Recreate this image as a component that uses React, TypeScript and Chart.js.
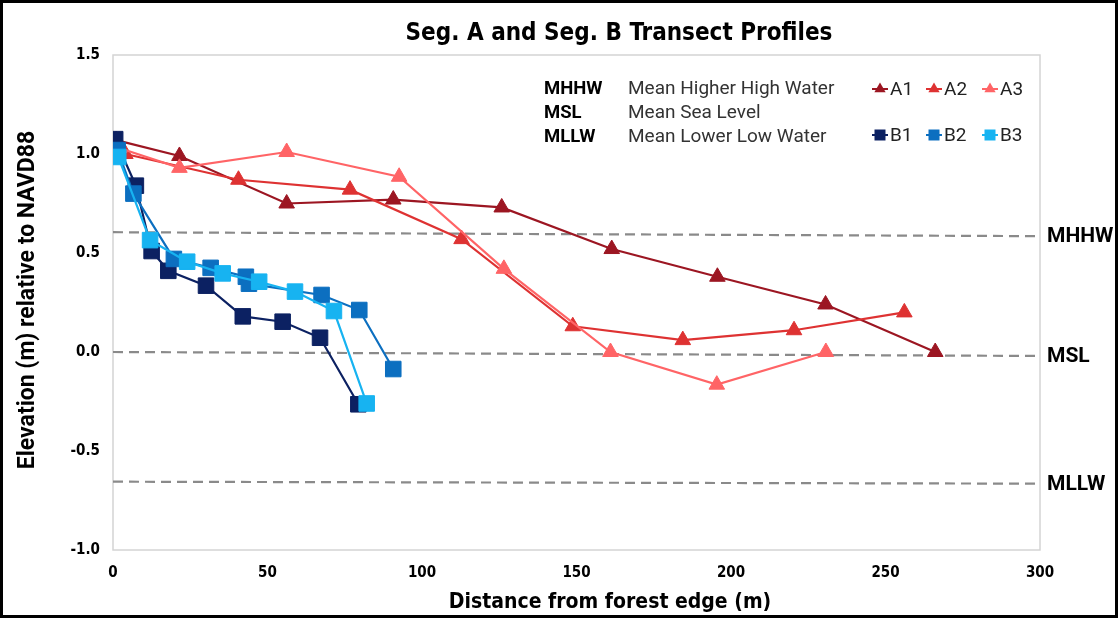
import React, { useEffect, useRef } from "react";
import { Chart, registerables } from "chart.js";

Chart.register(...registerables);

// ---- data (distance from forest edge in m, elevation in m rel. NAVD88) ----
const A1_X = [1, 21.5, 56.2, 90.7, 125.8, 161.4, 195.6, 230.6, 266.1];
const A1_Y = [1.07, 0.99, 0.75, 0.77, 0.73, 0.52, 0.38, 0.24, 0.0];
const A2_X = [4, 40.6, 76.7, 112.8, 148.8, 184.4, 220.4, 256.1];
const A2_Y = [1.0, 0.87, 0.82, 0.57, 0.13, 0.06, 0.11, 0.2];
const A3_X = [2, 21.5, 56.2, 92.6, 126.5, 161, 195.4, 230.7];
const A3_Y = [1.03, 0.93, 1.01, 0.885, 0.42, 0.0, -0.165, 0.0];
const B1_X = [0.7, 7.4, 12.5, 17.9, 30.1, 42, 54.9, 67, 79.4];
const B1_Y = [1.075, 0.84, 0.51, 0.41, 0.335, 0.18, 0.153, 0.072, -0.264];
const B2_X = [1.5, 6.6, 19.7, 31.6, 43, 44, 67.5, 79.7, 90.7];
const B2_Y = [1.02, 0.8, 0.47, 0.425, 0.38, 0.345, 0.288, 0.212, -0.086];
const B3_X = [1.7, 12, 24, 35.5, 47.3, 58.9, 71.5, 82.1];
const B3_Y = [0.985, 0.565, 0.456, 0.397, 0.355, 0.305, 0.207, -0.26];

const LEVEL_X = [0, 300];
const MHHW_Y = [0.605, 0.585];
const MSL_Y = [0.0, -0.02];
const MLLW_Y = [-0.655, -0.665];

const LEVEL_CODES = ["MHHW", "MSL", "MLLW"];
const LEVEL_NAMES = ["Mean Higher High Water", "Mean Sea Level", "Mean Lower Low Water"];

const X_TICKS = [0, 50, 100, 150, 200, 250, 300];
const Y_TICKS = [-1.0, -0.5, 0.0, 0.5, 1.0, 1.5];

const TITLE = "Seg. A and Seg. B Transect Profiles";
const X_TITLE = "Distance from forest edge (m)";
const Y_TITLE = "Elevation (m) relative to NAVD88";

const COLORS = {
  A1: "#9c1622",
  A2: "#de3232",
  A3: "#ff6466",
  B1: "#0c2162",
  B2: "#0c6fc0",
  B3: "#17b3f1",
  level: "#8a8a8a",
};

const NARROW = "'Liberation Sans Narrow', 'DejaVu Sans Condensed', 'Open Sans', sans-serif";
const SANS = "Roboto, 'Noto Sans', sans-serif";

function pts(xs: number[], ys: number[]) {
  return xs.map((x, i) => ({ x, y: ys[i] }));
}

const textPlugin = {
  id: "customTexts",
  beforeDatasetsDraw(chart: any) {
    const { ctx, chartArea } = chart;
    ctx.save();
    ctx.strokeStyle = "#d4d4d4";
    ctx.lineWidth = 1.5;
    ctx.strokeRect(chartArea.left, chartArea.top, chartArea.right - chartArea.left, chartArea.bottom - chartArea.top);
    ctx.restore();
  },
  afterDraw(chart: any) {
    const { ctx, chartArea, scales } = chart;
    const ys = scales.y;
    ctx.save();
    ctx.fillStyle = "#000";
    ctx.textBaseline = "middle";

    // title
    ctx.textAlign = "center";
    ctx.font = `bold 24px ${NARROW}`;
    ctx.fillText(TITLE, 616, 31);

    // x title
    ctx.font = `bold 21px ${NARROW}`;
    ctx.fillText(X_TITLE, 607, 600);

    // y title
    ctx.save();
    ctx.translate(25, 297);
    ctx.rotate(-Math.PI / 2);
    ctx.font = `bold 23px ${SANS}`;
    ctx.fillText(Y_TITLE, 0, 0);
    ctx.restore();

    // right labels
    ctx.textAlign = "left";
    ctx.font = `bold 21px ${SANS}`;
    const rightYs = [MHHW_Y[1], MSL_Y[1], MLLW_Y[1]];
    LEVEL_CODES.forEach((c, i) => {
      ctx.fillText(c, chartArea.right + 7, ys.getPixelForValue(rightYs[i]) + 1);
    });

    // level legend
    const rowY = [86, 110, 134];
    LEVEL_CODES.forEach((c, i) => {
      ctx.fillStyle = "#000";
      ctx.font = `bold 18.5px ${SANS}`;
      ctx.fillText(c, 541, rowY[i]);
      ctx.fillStyle = "#333";
      ctx.font = `19px ${SANS}`;
      ctx.fillText(LEVEL_NAMES[i], 625, rowY[i]);
    });

    // series legend
    const items = [
      { name: "A1", c: COLORS.A1, tri: true, x: 869, y: 86 },
      { name: "A2", c: COLORS.A2, tri: true, x: 923, y: 86 },
      { name: "A3", c: COLORS.A3, tri: true, x: 979, y: 86 },
      { name: "B1", c: COLORS.B1, tri: false, x: 869, y: 132 },
      { name: "B2", c: COLORS.B2, tri: false, x: 923, y: 132 },
      { name: "B3", c: COLORS.B3, tri: false, x: 979, y: 132 },
    ];
    items.forEach((it) => {
      ctx.strokeStyle = it.c;
      ctx.fillStyle = it.c;
      ctx.lineWidth = 2;
      ctx.beginPath();
      ctx.moveTo(it.x, it.y);
      ctx.lineTo(it.x + 16, it.y);
      ctx.stroke();
      const cx = it.x + 8;
      ctx.beginPath();
      if (it.tri) {
        const r = 6.5;
        ctx.moveTo(cx, it.y - r);
        ctx.lineTo(cx + r * 0.866, it.y + r * 0.5);
        ctx.lineTo(cx - r * 0.866, it.y + r * 0.5);
        ctx.closePath();
      } else {
        ctx.rect(cx - 5.5, it.y - 5.5, 11, 11);
      }
      ctx.fill();
      ctx.fillStyle = "#222";
      ctx.font = `19px ${SANS}`;
      ctx.fillText(it.name, it.x + 18, it.y + 1);
    });
    ctx.restore();
  },
};

export default function App() {
  const ref = useRef<HTMLCanvasElement | null>(null);
  useEffect(() => {
    document.body.style.margin = "0";
    if (!ref.current) return;
    const levelDs = (data: number[]) => ({
      data: pts(LEVEL_X, data),
      borderColor: COLORS.level,
      borderWidth: 2.2,
      borderDash: [10, 6],
      pointRadius: 0,
      order: 10,
    });
    const tri = (xs: number[], ys: number[], c: string, order: number) => ({
      data: pts(xs, ys),
      borderColor: c,
      backgroundColor: c,
      pointBackgroundColor: c,
      pointBorderColor: c,
      borderWidth: 2.2,
      pointStyle: "triangle",
      pointRadius: 9,
      pointBorderWidth: 1,
      order,
    });
    const sq = (xs: number[], ys: number[], c: string, order: number) => ({
      data: pts(xs, ys),
      borderColor: c,
      backgroundColor: c,
      pointBackgroundColor: c,
      pointBorderColor: c,
      borderWidth: 2.2,
      pointStyle: "rect",
      pointRadius: 11,
      pointBorderWidth: 1,
      order,
    });
    const chart = new Chart(ref.current, {
      type: "line",
      data: {
        datasets: [
          levelDs(MHHW_Y),
          levelDs(MSL_Y),
          levelDs(MLLW_Y),
          tri(A1_X, A1_Y, COLORS.A1, 6),
          tri(A2_X, A2_Y, COLORS.A2, 5),
          tri(A3_X, A3_Y, COLORS.A3, 4),
          sq(B1_X, B1_Y, COLORS.B1, 3),
          sq(B2_X, B2_Y, COLORS.B2, 2),
          sq(B3_X, B3_Y, COLORS.B3, 1),
        ] as any,
      },
      options: {
        responsive: false,
        animation: false,
        layout: { padding: { top: 52, right: 75, left: 0, bottom: 0 } },
        plugins: { legend: { display: false }, title: { display: false }, tooltip: { enabled: false } },
        scales: {
          x: {
            type: "linear",
            min: 0,
            max: 300,
            afterFit: (s: any) => { s.height = 65; },
            afterBuildTicks: (s: any) => { s.ticks = X_TICKS.map((v) => ({ value: v })); },
            grid: { display: false, drawTicks: false },
            border: { display: false },
            ticks: {
              padding: 14,
              color: "#000",
              font: { family: NARROW, weight: "bold", size: 15 },
              callback: (v: any) => String(v),
            },
          },
          y: {
            type: "linear",
            min: -1,
            max: 1.5,
            afterFit: (s: any) => { s.width = 110; },
            afterBuildTicks: (s: any) => { s.ticks = Y_TICKS.map((v) => ({ value: v })); },
            grid: { display: false, drawTicks: false },
            border: { display: false },
            ticks: {
              padding: 13,
              color: "#000",
              font: { family: NARROW, weight: "bold", size: 15 },
              callback: (v: any) => Number(v).toFixed(1),
            },
          },
        },
      } as any,
      plugins: [textPlugin],
    });
    return () => chart.destroy();
  }, []);
  return (
    <div style={{ width: 1118, height: 618, border: "3px solid #000", boxSizing: "border-box", background: "#fff" }}>
      <canvas ref={ref} width={1112} height={612} style={{ display: "block" }} />
    </div>
  );
}
